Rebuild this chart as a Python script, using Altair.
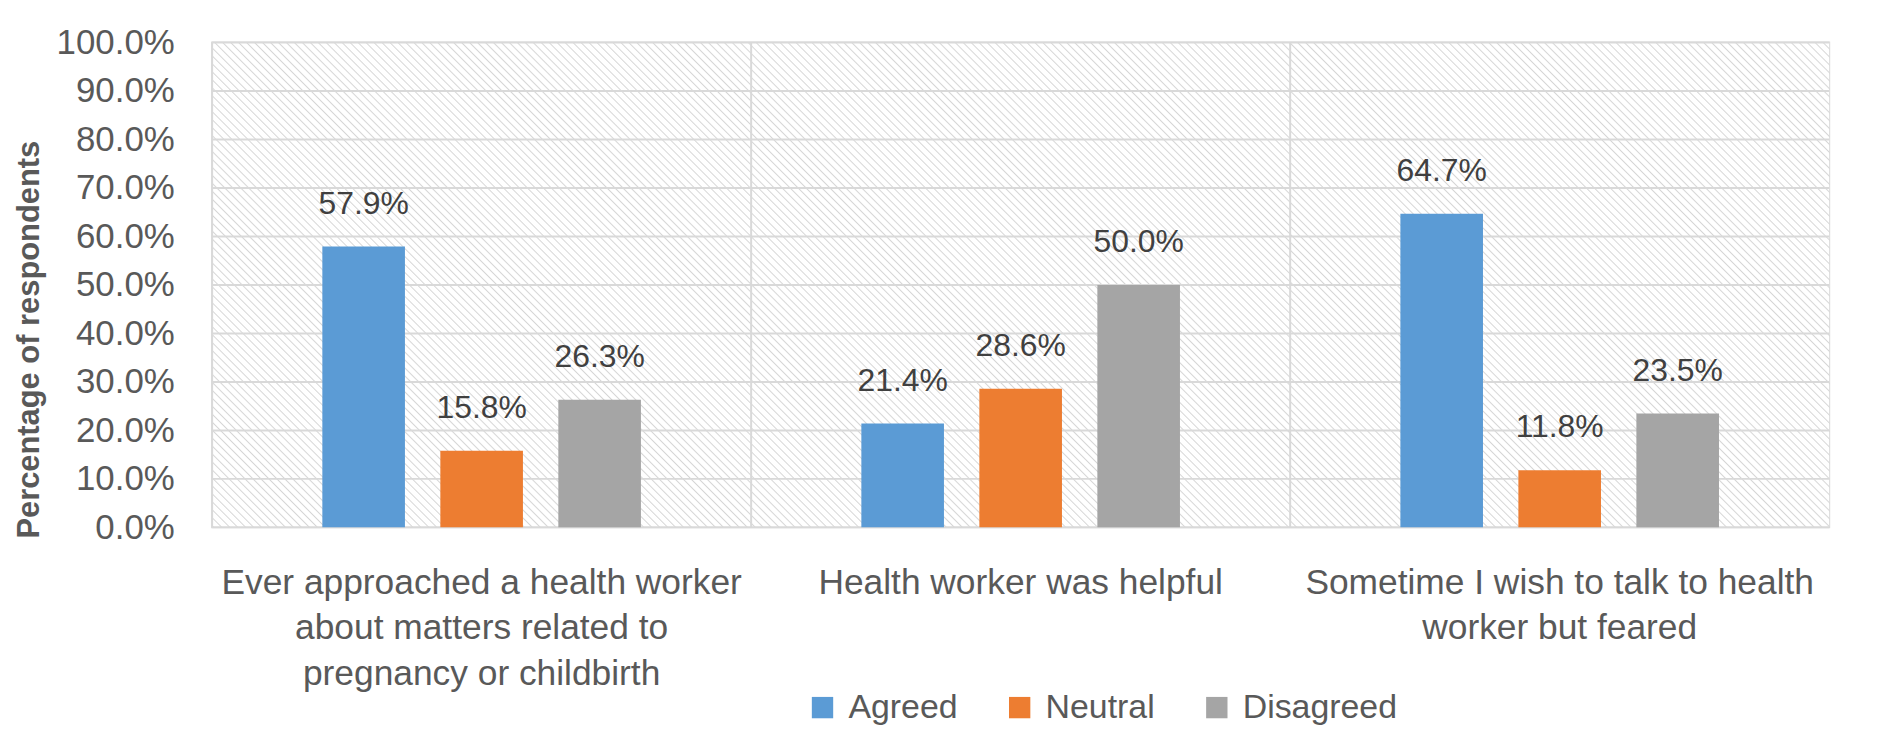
import altair as alt
import pandas as pd

# ---- data ----
categories = [
    "Ever approached a health worker\nabout matters related to\npregnancy or childbirth",
    "Health worker was helpful",
    "Sometime I wish to talk to health\nworker but feared",
]
series = ["Agreed", "Neutral", "Disagreed"]
agreed = [0.579, 0.214, 0.647]
neutral = [0.158, 0.286, 0.118]
disagreed = [0.263, 0.500, 0.235]
y_ticks = [0.0, 0.1, 0.2, 0.3, 0.4, 0.5, 0.6, 0.7, 0.8, 0.9, 1.0]
colors = ["#5B9BD5", "#ED7D31", "#A5A5A5"]

rows = []
for i, cat in enumerate(categories):
    for s, vals in zip(series, [agreed, neutral, disagreed]):
        rows.append({"category": cat, "series": s, "value": vals[i]})
df = pd.DataFrame(rows)

# ---- layout / style ----
W, H = 1624, 487
FONT = "Liberation Sans"
GRID = "#d9d9d9"
TXT = "#595959"

# diagonal hatch for the plot background, built as a striped gradient
n = round((W + H) / 8)
k = 0.5 * (W + H) / (W * W + H * H)
stops = [alt.GradientStop(offset=0, color="#ffffff")]
for i in range(n):
    t0 = i / n
    stops.append(alt.GradientStop(offset=t0 + 0.05 / n, color="#ffffff"))
    stops.append(alt.GradientStop(offset=t0 + 0.22 / n, color="#d6d6d6"))
    stops.append(alt.GradientStop(offset=t0 + 0.40 / n, color="#ffffff"))
stops.append(alt.GradientStop(offset=1, color="#ffffff"))
hatch = alt.LinearGradient(
    gradient="linear",
    stops=stops,
    x1=0.5 - k * W, y1=0.5 + k * H,
    x2=0.5 + k * W, y2=0.5 - k * H,
)

xscale = alt.Scale(domain=categories, paddingInner=0, paddingOuter=0)
yscale = alt.Scale(domain=[0, 1])

x_axis = alt.Axis(
    labelExpr="split(datum.label, '\\n')",
    labelAngle=0,
    labelFont=FONT,
    labelFontSize=35.5,
    labelColor=TXT,
    labelLineHeight=46,
    labelPadding=38,
    labelBaseline="top",
    labelLimit=700,
    ticks=False,
    domain=False,
    grid=False,
)
y_axis = alt.Axis(
    values=y_ticks,
    format=".1%",
    labelFont=FONT,
    labelFontSize=35,
    labelColor=TXT,
    labelPadding=38,
    ticks=False,
    domain=False,
    grid=False,
    titleFont=FONT,
    titleFontSize=31,
    titleFontWeight="bold",
    titleColor=TXT,
    titleX=-183,
    titleY=298,
    titleBaseline="middle",
)
Y_TITLE = "Percentage of respondents"

background = alt.Chart(pd.DataFrame({"d": [0]})).mark_rect(fill=hatch).encode(
    x=alt.value(0), x2=alt.value("width"), y=alt.value(0), y2=alt.value("height")
)

hgrid = alt.Chart(pd.DataFrame({"value": y_ticks})).mark_rule(
    color=GRID, strokeWidth=2
).encode(y=alt.Y("value:Q", scale=yscale, axis=y_axis, title=Y_TITLE))

vgrid = alt.Chart(pd.DataFrame({"category": categories})).mark_rule(
    color=GRID, strokeWidth=2
).encode(
    x=alt.X("category:N", sort=categories, scale=xscale, bandPosition=0, axis=x_axis, title=None)
)

x_enc = alt.X("category:N", sort=categories, scale=xscale, title=None, axis=x_axis)
xoff = alt.XOffset(
    "series:N", sort=series, scale=alt.Scale(domain=series, paddingInner=0.3, paddingOuter=0.934)
)
y_enc = alt.Y("value:Q", scale=yscale, title=Y_TITLE, axis=y_axis)

bars = alt.Chart(df).mark_bar().encode(
    x=x_enc,
    xOffset=xoff,
    y=y_enc,
    color=alt.Color(
        "series:N",
        sort=series,
        scale=alt.Scale(domain=series, range=colors),
        legend=alt.Legend(
            title=None,
            orient="none",
            direction="horizontal",
            legendX=596,
            legendY=651,
            padding=0,
            symbolType="square",
            symbolSize=460,
            symbolStrokeWidth=0,
            labelFont=FONT,
            labelFontSize=34,
            labelColor=TXT,
            labelOffset=9,
            columnPadding=45,
        ),
    ),
)

labels = alt.Chart(df).mark_text(
    font=FONT, fontSize=32, color="#404040", baseline="alphabetic", dy=-33
).encode(
    x=x_enc,
    xOffset=xoff,
    y=y_enc,
    text=alt.Text("value:Q", format=".1%"),
)

chart = (
    alt.layer(background, hgrid, vgrid, bars, labels)
    .properties(
        width=W,
        height=H,
        autosize=alt.AutoSizeParams(type="none"),
        padding={"left": 205, "top": 33, "right": 45, "bottom": 225},
        background="#ffffff",
    )
    .configure_view(stroke=GRID, strokeWidth=2)
)

chart.save("out.html", embed_options={"renderer": "svg", "actions": False})
